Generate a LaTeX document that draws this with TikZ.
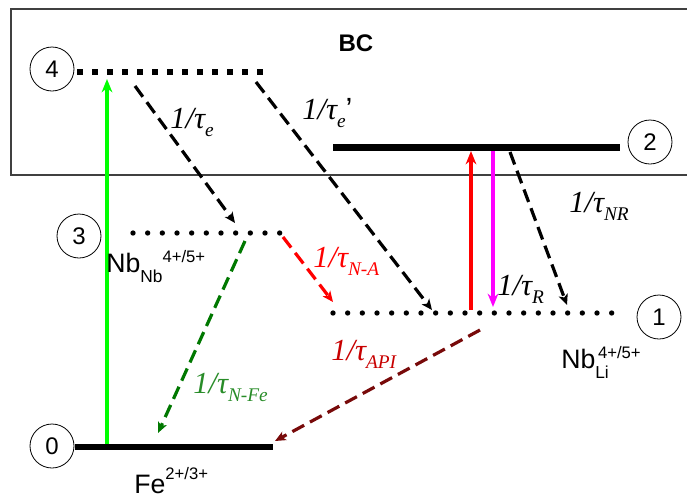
\documentclass[tikz,border=0pt]{standalone}
\usepackage{fontspec}
\setmainfont{Liberation Sans}
\newfontfamily\ratefont{Liberation Serif}
\usetikzlibrary{positioning,arrows.meta}

\definecolor{pumpgreen}{RGB}{0,255,0}
\definecolor{pumppink}{RGB}{255,0,255}
\definecolor{fegreen}{RGB}{0,120,0}
\definecolor{fetext}{RGB}{40,140,40}
\definecolor{apibrown}{RGB}{120,10,10}
\definecolor{apitext}{RGB}{200,0,0}

\newcommand{\rate}[1]{{\ratefont\itshape 1/τ\raisebox{-6.5pt}{\fontsize{14.5}{14.5}\selectfont #1}}}
\newcommand{\lo}[1]{\raisebox{-7.5pt}{\fontsize{13}{13}\selectfont #1}}
\newcommand{\hi}[2]{\raisebox{#1}{\fontsize{12.5}{12.5}\selectfont #2}}

\begin{document}
\begin{tikzpicture}[
    x=0.75pt, y=-0.75pt,
    every node/.style={inner sep=0pt},
    num/.style={circle, draw, line width=0.6pt, minimum size=33pt, font=\fontsize{18}{18}\selectfont},
    ratelbl/.style={anchor=base west, font=\fontsize{23}{23}\selectfont},
    ionlbl/.style={anchor=base west, font=\fontsize{20}{20}\selectfont},
    solidlvl/.style={line width=5pt},
    dotlvl/.style={line width=4pt, line cap=round, dash pattern=on 0pt off 11pt},
    sqlvl/.style={line width=4.5pt, dash pattern=on 4.5pt off 6.75pt},
    decay/.style={line width=2.4pt, dash pattern=on 10pt off 5pt, -{Stealth[length=8pt,width=7pt,inset=2pt]}},
    pump/.style={line width=3pt, -{Stealth[length=10pt,width=8pt]}},
]
\useasboundingbox (0,0) rectangle (687,497);

% conduction band
\draw[line width=0.8pt, black!75] (687,9) -- (11,9) -- (11,175) -- (687,175);
\node[font=\fontsize{18}{18}\selectfont\bfseries] (bc) at (356,43) {BC};

% levels
\coordinate (l4a) at (77,72);      \coordinate (l4b) at (271,72);
\coordinate (l3a) at (133,233);    \coordinate (l3b) at (281,233);
\coordinate (l2a) at (333,147.5);  \coordinate (l2b) at (620,147.5);
\coordinate (l1a) at (333,313);    \coordinate (l1b) at (613,313);
\coordinate (l0a) at (75,447);     \coordinate (l0b) at (273,447);
\draw[sqlvl] (l4a) -- (l4b);
\draw[dotlvl] (l3a) -- (l3b);
\draw[solidlvl] (l2a) -- (l2b);
\draw[dotlvl] (l1a) -- (l1b);
\draw[solidlvl] (l0a) -- (l0b);

\node[num] (n4) at (52,69) {4};
\node[num] (n3) at (79,236) {3};
\node[num] (n2) at (650,142) {2};
\node[num] (n1) at (659,317) {1};
\node[num] (n0) at (52,446) {0};

% arrow ends
\coordinate (exc0) at (107,444);  \coordinate (exc4) at (107,79);
\coordinate (up1) at (471,310);   \coordinate (up2) at (471,151);
\coordinate (dn2) at (493,151);   \coordinate (dn1) at (493,307);
\coordinate (e1s) at (135,86);    \coordinate (e1t) at (235,223);
\coordinate (e2s) at (256,82);    \coordinate (e2t) at (432,310);
\coordinate (nrs) at (510,152);   \coordinate (nrt) at (567,305);
\coordinate (nas) at (283,237);   \coordinate (nat) at (333,302);
\coordinate (nfs) at (245,241);   \coordinate (nft) at (158,433);
\coordinate (aps) at (480,330);   \coordinate (apt) at (275,441);

\draw[pump, pumpgreen] (exc0) -- (exc4);
\draw[pump, red] (up1) -- (up2);
\draw[pump, pumppink] (dn2) -- (dn1);
\draw[decay] (e1s) -- (e1t);
\draw[decay] (e2s) -- (e2t);
\draw[decay] (nrs) -- (nrt);
\draw[decay, red] (nas) -- (nat);
\draw[decay, fegreen] (nfs) -- (nft);
\draw[decay, apibrown] (aps) -- (apt);

% rates
\node[ratelbl] (te) at (170,128) {\rate{e}};
\node[ratelbl] (tep) at (302,119) {\rate{e}’};
\node[ratelbl] (tnr) at (569,212) {\rate{NR}};
\node[ratelbl] (tr) at (497,295) {\rate{R}};
\node[ratelbl, red] (tna) at (313,267) {\rate{N-A}};
\node[ratelbl, fetext] (tnf) at (193,393) {\rate{N-Fe}};
\node[ratelbl, apitext] (tapi) at (331,360) {\rate{API}};

% centres
\node[ionlbl] (nbnb) at (106,272) {Nb\lo{Nb}\hi{7pt}{4+/5+}};
\node[ionlbl] (nbli) at (561,368) {Nb\lo{\rlap{Li}}\hspace{2pt}\hi{7.5pt}{4+/5+}};
\node[ionlbl] (fe) at (134,493) {Fe\hi{10pt}{2+/3+}};
\end{tikzpicture}
\end{document}
